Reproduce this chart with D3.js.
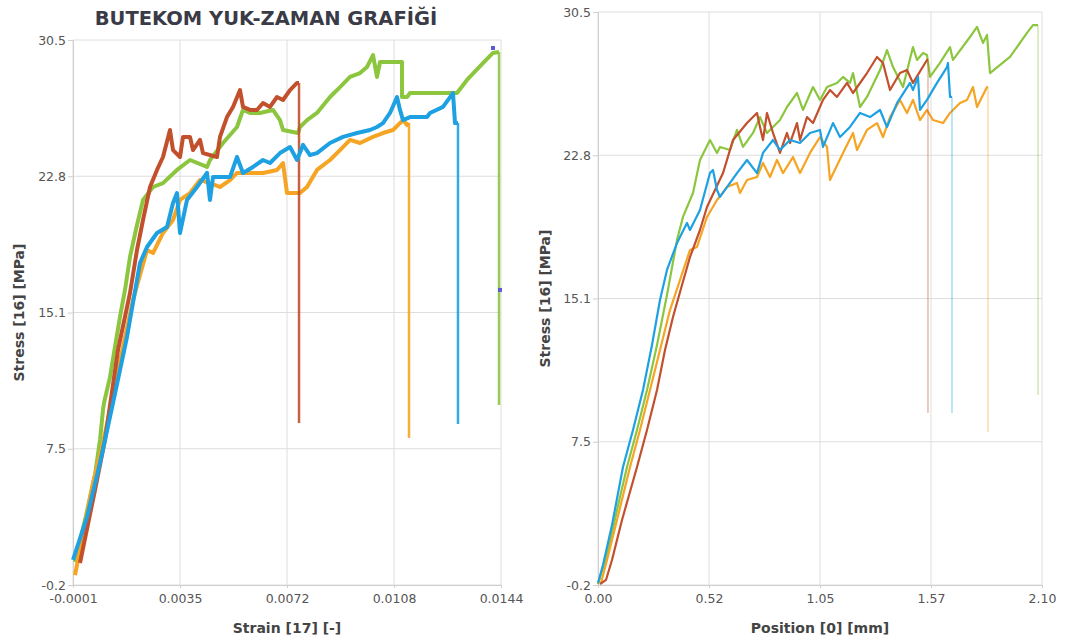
<!DOCTYPE html>
<html>
<head>
<meta charset="utf-8">
<script src="https://cdn.jsdelivr.net/npm/d3@7"></script>
<style>
  body { margin: 0; background: #fff; }
  svg { display: block; font-family: "DejaVu Sans", Verdana, sans-serif; }
</style>
</head>
<body>
<div id="chart"></div>
<script>
// ---- data ----
const title = 'BUTEKOM YUK-ZAMAN GRAFİĞİ';

const strainTickLabels = ['-0.0001', '0.0035', '0.0072', '0.0108', '0.0144'];
const positionTickLabels = ['0.00', '0.52', '1.05', '1.57', '2.10'];
const stressTickLabels = ['-0.2', '7.5', '15.1', '22.8', '30.5'];

const seriesColors = { green: '#8cc63f', orange: '#f6a423', red: '#c2502d', blue: '#1da1e2' };

// left panel: [strain, stress]
const strainGreen = [[-0.000032,1.10],[0.000307,3.46],[0.000645,6.00],[0.000815,7.97],[0.000916,9.66],[0.000950,10.05],
  [0.001154,11.52],[0.001492,14.90],[0.001662,16.42],[0.001831,18.28],[0.002068,20.08],[0.002272,21.49],[0.002610,22.22],
  [0.002949,22.44],[0.003423,23.18],[0.003864,23.74],[0.004440,23.35],[0.004541,23.74],[0.004982,24.70],[0.005456,25.60],
  [0.005659,26.56],[0.005897,26.39],[0.006235,26.39],[0.006676,26.56],[0.006913,25.99],[0.007015,25.43],[0.007523,25.26],
  [0.007591,25.60],[0.007828,25.99],[0.008166,26.39],[0.008607,27.29],[0.008946,27.85],[0.009284,28.42],[0.009623,28.64],
  [0.009860,28.98],[0.010064,29.65],[0.010199,28.42],[0.010301,29.26],[0.011046,29.26],[0.011046,27.29],[0.011216,27.29],
  [0.011317,27.51],[0.012910,27.51],[0.013248,28.25],[0.013790,29.20],[0.014129,29.77],[0.014333,29.82],[0.014333,9.94]];
const strainOrange = [[-0.000032,0.36],[0.000578,5.55],[0.000916,7.80],[0.001154,9.66],[0.001594,13.21],[0.001933,15.85],
  [0.002407,18.67],[0.002610,18.50],[0.002949,19.63],[0.003288,20.36],[0.003525,21.49],[0.003864,21.88],[0.004203,22.61],
  [0.004541,22.44],[0.004880,22.22],[0.005219,22.61],[0.005456,23.01],[0.005897,23.01],[0.006337,23.01],[0.006811,23.18],
  [0.007015,23.57],[0.007150,21.88],[0.007591,21.88],[0.007828,22.22],[0.008166,23.18],[0.008607,23.74],[0.008946,24.30],
  [0.009284,24.87],[0.009623,24.70],[0.010064,25.04],[0.010402,25.26],[0.010741,25.43],[0.011080,25.99],[0.011216,25.71],
  [0.011283,25.82],[0.011283,8.08]];
const strainRed = [[0.000137,1.04],[0.000645,5.15],[0.000984,7.97],[0.001425,13.04],[0.001831,16.25],[0.002068,18.67],
  [0.002272,20.36],[0.002509,22.22],[0.002746,23.18],[0.002949,23.91],[0.003186,25.43],[0.003288,24.30],[0.003525,23.91],
  [0.003627,25.04],[0.003864,25.04],[0.003965,24.30],[0.004203,24.87],[0.004304,24.13],[0.004779,23.91],[0.004880,25.04],
  [0.005117,26.16],[0.005321,26.73],[0.005558,27.68],[0.005659,26.73],[0.005897,26.56],[0.006134,26.56],[0.006337,26.95],
  [0.006574,26.73],[0.006811,27.29],[0.007015,27.12],[0.007252,27.68],[0.007489,28.08],[0.007557,28.08],[0.007557,8.93]];
const strainBlue = [[-0.000100,1.21],[0.000374,3.63],[0.000815,6.67],[0.001255,10.05],[0.001729,13.77],[0.002170,17.94],
  [0.002407,18.84],[0.002746,19.63],[0.003085,19.97],[0.003288,21.32],[0.003423,21.88],[0.003525,19.63],[0.003762,21.49],
  [0.004101,22.22],[0.004440,23.01],[0.004541,21.49],[0.004643,22.78],[0.005219,22.78],[0.005456,23.91],[0.005659,23.01],
  [0.005998,23.35],[0.006337,23.74],[0.006574,23.57],[0.006913,24.13],[0.007252,24.47],[0.007489,23.74],[0.007692,24.59],
  [0.007929,24.02],[0.008166,24.13],[0.008607,24.70],[0.009047,25.04],[0.009522,25.26],[0.009962,25.43],[0.010199,25.60],
  [0.010402,25.82],[0.010640,26.39],[0.010877,27.29],[0.010978,26.56],[0.011080,25.99],[0.011317,26.16],[0.011893,26.16],
  [0.011995,26.39],[0.012435,26.73],[0.012774,27.51],[0.012842,25.82],[0.012943,25.82],[0.012943,8.87]];
const strainMarkers = [[0.014129,30.05],[0.014366,16.42]];

// right panel: [position mm, stress]
const posGreen = [[0,-0.15],[0.0426,1.41],[0.0899,3.82],[0.1372,6.12],[0.1845,8.10],[0.2318,10.25],[0.2791,12.66],
  [0.3263,15.34],[0.3736,18.28],[0.4020,19.52],[0.4493,20.80],[0.4824,22.57],[0.5297,23.64],[0.5628,22.95],[0.5770,23.27],
  [0.6243,23.11],[0.6574,24.18],[0.6858,23.27],[0.7331,24.02],[0.7662,24.87],[0.7993,24.02],[0.8608,24.71],[0.8939,25.41],
  [0.9412,26.16],[0.9696,25.25],[1.0169,26.48],[1.0500,25.79],[1.0831,26.48],[1.1304,26.70],[1.1588,27.02],[1.1919,26.70],
  [1.2061,27.23],[1.2392,25.41],[1.2723,25.95],[1.3338,27.39],[1.3669,28.46],[1.3953,27.55],[1.4426,26.48],[1.4899,28.62],
  [1.5088,27.93],[1.5372,28.30],[1.5561,28.20],[1.5703,27.02],[1.6176,27.77],[1.6649,28.62],[1.6790,27.93],[1.7594,29.16],
  [1.7926,29.70],[1.8209,28.84],[1.8399,29.27],[1.8540,27.23],[1.9486,28.09],[2.0290,29.38],[2.0574,29.80],[2.0811,29.80],
  [2.0811,9.98]];
const posOrange = [[0.0142,-0.09],[0.0426,1.14],[0.0899,3.28],[0.1514,6.12],[0.1986,8.10],[0.2459,10.25],[0.2932,12.39],
  [0.3405,14.53],[0.3878,16.14],[0.4351,17.75],[0.4682,17.91],[0.5155,19.52],[0.5628,20.43],[0.6101,21.12],[0.6574,21.34],
  [0.6716,20.80],[0.7047,21.50],[0.7520,21.66],[0.7804,22.41],[0.8135,21.66],[0.8466,22.57],[0.8750,21.87],[0.9223,22.73],
  [0.9554,21.87],[1.0027,22.95],[1.0500,23.80],[1.0831,23.27],[1.0973,21.50],[1.1588,22.95],[1.2061,24.02],[1.2250,23.11],
  [1.2723,24.18],[1.3196,24.55],[1.3480,23.80],[1.3811,24.87],[1.4284,25.79],[1.4615,25.09],[1.4899,25.79],[1.5230,24.71],
  [1.5561,25.25],[1.5844,24.71],[1.6317,24.55],[1.6649,25.09],[1.7122,25.62],[1.7453,25.79],[1.7736,26.48],[1.7926,25.41],
  [1.8399,26.48],[1.8446,26.48],[1.8446,8.00]];
const posRed = [[0.0095,-0.15],[0.0378,0.07],[0.0662,1.14],[0.1135,3.28],[0.1845,6.12],[0.2318,8.10],[0.2791,10.25],
  [0.3169,12.39],[0.3547,14.16],[0.3973,15.87],[0.4351,17.37],[0.4824,18.82],[0.5155,20.05],[0.5912,21.87],[0.6385,23.64],
  [0.7047,24.55],[0.7520,25.09],[0.7662,24.34],[0.7804,23.64],[0.7993,25.09],[0.8277,24.02],[0.8608,22.95],[0.8939,24.02],
  [0.9081,23.48],[0.9412,24.55],[0.9554,23.64],[0.9885,24.87],[1.0169,24.55],[1.0642,25.79],[1.0973,26.32],[1.1304,25.95],
  [1.1777,26.70],[1.2061,26.16],[1.2723,27.23],[1.3196,28.09],[1.3480,27.77],[1.3811,26.32],[1.4284,27.23],[1.4615,27.39],
  [1.4899,26.70],[1.5561,27.93],[1.5608,27.93],[1.5608,9.02]];
const posBlue = [[0,-0.09],[0.0236,0.87],[0.0662,3.01],[0.1182,6.12],[0.1655,8.10],[0.2128,10.25],[0.2554,12.66],
  [0.2932,15.07],[0.3263,16.68],[0.3736,18.12],[0.4209,19.20],[0.4351,18.82],[0.4824,19.89],[0.5297,21.87],[0.5439,22.03],
  [0.5628,20.96],[0.5770,20.59],[0.6574,21.87],[0.7047,22.57],[0.7520,21.87],[0.7804,22.95],[0.8277,23.64],[0.8608,23.11],
  [0.9081,23.64],[0.9554,23.48],[1.0027,24.02],[1.0500,24.18],[1.0642,23.27],[1.1115,24.55],[1.1446,23.80],[1.1919,24.34],
  [1.2392,25.09],[1.2865,24.87],[1.3338,25.25],[1.3669,24.34],[1.4142,25.62],[1.4757,26.70],[1.4899,26.32],[1.5135,27.02],
  [1.5230,25.25],[1.5561,25.79],[1.6034,26.70],[1.6507,27.55],[1.6554,27.77],[1.6649,25.95],[1.6743,25.95],[1.6743,9.02]];

// ---- drawing ----
const W = 1065, H = 644;
const svg = d3.select('#chart').append('svg')
  .attr('width', W).attr('height', H);
svg.append('rect').attr('width', W).attr('height', H).attr('fill', '#fff');

function evenTicks(domain, n) {
  return d3.range(n).map(i => domain[0] + i * (domain[1] - domain[0]) / (n - 1));
}

function panel(cfg) {
  let x = d3.scaleLinear().domain(cfg.xDomain).range([cfg.left, cfg.right]);
  let y = d3.scaleLinear().domain([-0.2, 30.5]).range([cfg.bottom, cfg.top]);
  let xt = evenTicks(cfg.xDomain, 5), yt = evenTicks([-0.2, 30.5], 5);
  let g = svg.append('g');

  // grid
  g.append('g').selectAll('line').data(xt).join('line')
    .attr('x1', d => x(d)).attr('x2', d => x(d))
    .attr('y1', cfg.top).attr('y2', cfg.bottom)
    .attr('stroke', '#dedede').attr('stroke-width', 1);
  g.append('g').selectAll('line').data(yt).join('line')
    .attr('x1', cfg.left).attr('x2', cfg.right)
    .attr('y1', d => y(d)).attr('y2', d => y(d))
    .attr('stroke', '#dedede').attr('stroke-width', 1);

  // axes (ticks and labels only)
  let xAxis = d3.axisBottom(x).tickValues(xt).tickSize(3).tickPadding(4)
    .tickFormat((d, i) => cfg.xLabels[i]);
  let yAxis = d3.axisLeft(y).tickValues(yt).tickSize(5).tickPadding(2)
    .tickFormat((d, i) => stressTickLabels[i]);
  let gx = g.append('g').attr('transform', `translate(0,${cfg.bottom})`).call(xAxis);
  let gy = g.append('g').attr('transform', `translate(${cfg.left},0)`).call(yAxis);
  [gx, gy].forEach(a => {
    a.select('.domain').attr('stroke', '#cfcfcf');
    a.selectAll('.tick line').attr('stroke', '#cfcfcf');
    a.selectAll('.tick text').attr('fill', '#555').style('font-size', '12.5px')
      .style('font-family', '"DejaVu Sans", Verdana, sans-serif');
  });
  gx.selectAll('.tick text').attr('dy', '0.9em');

  // series: body first, the final failure drop drawn thinner
  let line = d3.line().x(d => x(d[0])).y(d => y(d[1]));
  cfg.series.forEach(s => {
    let main = s.data.slice(0, -1);
    let drop = s.data.slice(-2);
    g.append('path').datum(drop).attr('d', line)
      .attr('fill', 'none').attr('stroke', s.color)
      .attr('stroke-width', cfg.dropWidth).attr('stroke-opacity', cfg.dropOpacity);
    g.append('path').datum(main).attr('d', line)
      .attr('fill', 'none').attr('stroke', s.color)
      .attr('stroke-width', cfg.lineWidth).attr('stroke-linejoin', 'round');
  });

  // axis titles
  g.append('text').attr('x', (cfg.left + cfg.right) / 2).attr('y', 633)
    .attr('text-anchor', 'middle').attr('fill', '#444')
    .style('font-size', '14px').style('font-weight', 'bold').text(cfg.xTitle);
  g.append('text')
    .attr('transform', `translate(${cfg.yTitleX},${(cfg.top + cfg.bottom) / 2}) rotate(-90)`)
    .attr('text-anchor', 'middle').attr('fill', '#444')
    .style('font-size', '14px').style('font-weight', 'bold').text('Stress [16] [MPa]');
  return { g, x, y };
}

let left = panel({
  left: 73, right: 501, top: 40, bottom: 585, xDomain: [-0.0001, 0.0144],
  xLabels: strainTickLabels, xTitle: 'Strain [17] [-]', yTitleX: 24,
  lineWidth: 4, dropWidth: 2.5, dropOpacity: 0.9,
  series: [
    { data: strainGreen, color: seriesColors.green },
    { data: strainOrange, color: seriesColors.orange },
    { data: strainRed, color: seriesColors.red },
    { data: strainBlue, color: seriesColors.blue }
  ]
});
left.g.selectAll('rect.mk').data(strainMarkers).join('rect')
  .attr('class', 'mk')
  .attr('x', d => left.x(d[0]) - 2).attr('y', d => left.y(d[1]) - 2)
  .attr('width', 4).attr('height', 4).attr('fill', '#5b5bd6');

panel({
  left: 598, right: 1042, top: 12, bottom: 585, xDomain: [0, 2.1],
  xLabels: positionTickLabels, xTitle: 'Position [0] [mm]', yTitleX: 550,
  lineWidth: 2.2, dropWidth: 1, dropOpacity: 0.6,
  series: [
    { data: posGreen, color: seriesColors.green },
    { data: posOrange, color: seriesColors.orange },
    { data: posRed, color: seriesColors.red },
    { data: posBlue, color: seriesColors.blue }
  ]
});

svg.append('text').attr('x', 266).attr('y', 25).attr('text-anchor', 'middle')
  .attr('fill', '#3a3b47').style('font-size', '19.5px').style('font-weight', 'bold')
  .text(title);
</script>
</body>
</html>
